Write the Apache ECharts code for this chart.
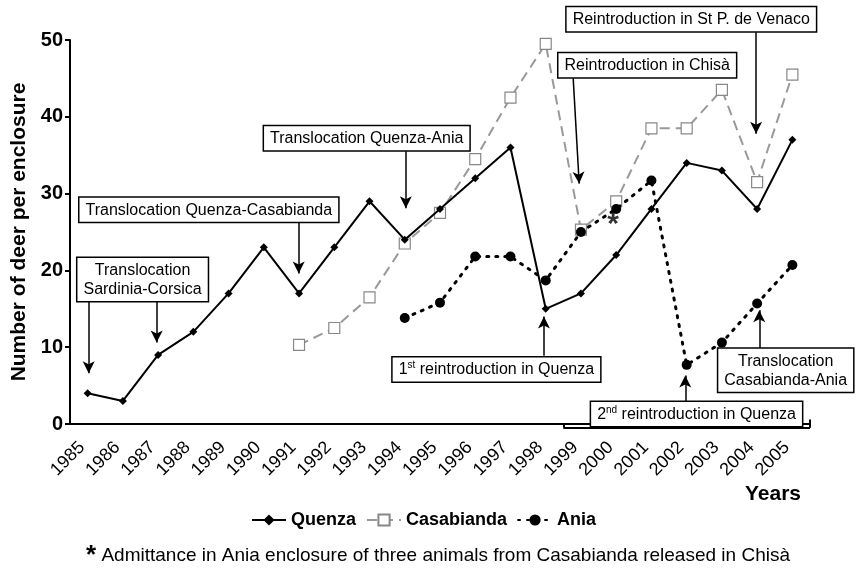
<!DOCTYPE html>
<html>
<head>
<meta charset="utf-8">
<script src="https://cdn.jsdelivr.net/npm/echarts@6/dist/echarts.min.js"></script>
<style>
  html, body { margin: 0; padding: 0; background: #fff; }
  #main { width: 858px; height: 569px; }
</style>
</head>
<body>
<div id="main"></div>
<script>
// values
const years = ['1985', '1986', '1987', '1988', '1989', '1990', '1991', '1992', '1993', '1994', '1995',
  '1996', '1997', '1998', '1999', '2000', '2001', '2002', '2003', '2004', '2005']
const quenza = [4, 3, 9, 12, 17, 23, 17, 23, 29, 24, 28, 32, 36, 15, 17, 22, 28, 34, 33, 28, 37]
const casabianda = [null, null, null, null, null, null, 10.3, 12.5, 16.5, 23.5, 27.5, 34.5, 42.5, 49.5,
  25.3, 29, 38.5, 38.5, 43.5, 31.5, 45.5]
const ania = [null, null, null, null, null, null, null, null, null, 13.8, 15.8, 21.8, 21.8, 18.7,
  25, 28, 31.7, 7.7, 10.6, 15.7, 20.7]
const admittance = [['2000', 26.8]]

// annotation boxes: [text, year, value] (centre of box, in year units)
const boxes = [
  ['Translocation\nSardinia-Corsica', 1986.56, 18.8],
  ['Translocation Quenza-Casabianda', 1988.44, 27.9],
  ['Translocation Quenza-Ania', 1992.92, 37.2],
  ['Reintroduction in St P. de Venaco', 2002.13, 52.7],
  ['Reintroduction in Chisà', 2000.88, 46.7],
  ['{n|1}{s|st}{n| reintroduction in Quenza}', 1996.6, 7.1],
  ['{n|2}{s|nd}{n| reintroduction in Quenza}', 2002.28, 1.3],
  ['Translocation\nCasabianda-Ania', 2004.81, 7.0]
]
// arrows: [fromYear, fromValue, toYear, toValue]
const arrows = [
  [1985.03, 15.9, 1985.03, 6.6],
  [1986.96, 15.9, 1986.96, 10.6],
  [1990.99, 26.3, 1990.99, 19.6],
  [1994.03, 35.5, 1994.03, 28.1],
  [2003.97, 51.0, 2003.97, 37.8],
  [1998.78, 45.0, 1998.95, 31.3],
  [1997.95, 8.9, 1997.95, 14.0],
  [2001.96, 3.0, 2001.96, 6.3],
  [2004.06, 9.9, 2004.06, 14.8]
]
// bracket drawn under the axis from 1999 to the end: [fromYear, fromValue, toYear, toValue]
const bracket = [
  [1998.5, 0, 1998.5, -0.5],
  [1998.5, -0.5, 2005.5, -0.5],
  [2005.5, -0.5, 2005.5, 0.6]
]

const font = 'Liberation Sans, Arial, sans-serif'
const chart = echarts.init(document.getElementById('main'))

chart.setOption({
  animation: false,
  textStyle: { fontFamily: font },
  grid: [
    { left: 70, right: 48, top: 40, bottom: 145 },
    // same scale, 5 units more each way, so annotations outside 0..50 are kept
    { left: 70, right: 48, top: 1.6, bottom: 106.6 }
  ],
  legend: {
    bottom: 35,
    left: 246,
    itemWidth: 34,
    itemGap: 10,
    textStyle: { fontWeight: 'bold', fontSize: 18, color: '#000' },
    data: ['Quenza', 'Casabianda', 'Ania']
  },
  xAxis: [
    {
      type: 'category',
      data: years,
      boundaryGap: true,
      axisLine: { lineStyle: { color: '#000', width: 2 } },
      axisTick: { inside: true, length: 5, lineStyle: { color: '#000', width: 2 } },
      axisLabel: { rotate: 45, interval: 0, color: '#000', fontSize: 18, margin: 15, padding: [0, 8, 0, 0] }
    },
    { type: 'value', gridIndex: 1, min: 1984.5, max: 2005.5, show: false }
  ],
  yAxis: [
    {
      type: 'value',
      min: 0,
      max: 50,
      interval: 10,
      name: 'Number of deer per enclosure',
      nameLocation: 'middle',
      nameGap: 37,
      nameTextStyle: { fontWeight: 'bold', fontSize: 21, color: '#000' },
      splitLine: { show: false },
      axisLine: { show: true, lineStyle: { color: '#000', width: 2 } },
      axisTick: { show: true, length: 5, lineStyle: { color: '#000', width: 2 } },
      axisLabel: { color: '#000', fontSize: 20, fontWeight: 'bold', margin: 7 }
    },
    { type: 'value', gridIndex: 1, min: -5, max: 55, show: false }
  ],
  graphic: [
    {
      type: 'text', right: 57, top: 484,
      style: { text: 'Years', font: 'bold 21px ' + font, fill: '#000' }
    },
    {
      type: 'text', left: 86, top: 543,
      style: {
        text: '{a|*} Admittance in Ania enclosure of three animals from Casabianda released in Chisà',
        font: '19px ' + font, fill: '#000',
        rich: { a: { font: 'bold 26px ' + font, fill: '#000', verticalAlign: 'bottom' } }
      }
    }
  ],
  series: [
    {
      name: 'Quenza',
      type: 'line',
      data: quenza,
      symbol: 'diamond',
      symbolSize: 8,
      itemStyle: { color: '#000' },
      lineStyle: { color: '#000', width: 2 },
      z: 4
    },
    {
      name: 'Casabianda',
      type: 'line',
      data: casabianda,
      symbol: 'rect',
      symbolSize: 11,
      itemStyle: { color: '#fff', borderColor: '#888', borderWidth: 1.2 },
      lineStyle: { color: '#999', width: 2, type: [10, 6] },
      z: 3
    },
    {
      name: 'Ania',
      type: 'line',
      data: ania,
      symbol: 'circle',
      symbolSize: 10,
      itemStyle: { color: '#000' },
      lineStyle: { color: '#000', width: 3, type: [2, 7], cap: 'round' },
      z: 5
    },
    {
      type: 'scatter',
      data: admittance,
      symbolSize: 1,
      itemStyle: { color: 'transparent' },
      label: {
        show: true, position: 'inside', formatter: '*', offset: [-3, 7],
        fontSize: 30, fontWeight: 'bold', color: '#000'
      },
      z: 6
    },
    {
      type: 'scatter',
      xAxisIndex: 1,
      yAxisIndex: 1,
      data: [],
      silent: true,
      markLine: {
        silent: true,
        symbol: 'none',
        label: { show: false },
        lineStyle: { color: '#000', width: 2, type: 'solid' },
        data: bracket.map(a => [{ coord: [a[0], a[1]] }, { coord: [a[2], a[3]] }])
      },
      z: 2
    },
    {
      type: 'scatter',
      xAxisIndex: 1,
      yAxisIndex: 1,
      data: [],
      silent: true,
      markLine: {
        silent: true,
        symbol: ['none', 'arrow'],
        symbolSize: [9, 12],
        label: { show: false },
        lineStyle: { color: '#000', width: 1.5, type: 'solid' },
        data: arrows.map(a => [{ coord: [a[0], a[1]] }, { coord: [a[2], a[3]] }])
      },
      markPoint: {
        silent: true,
        symbol: 'rect',
        symbolSize: 1,
        itemStyle: { color: 'transparent' },
        label: {
          show: true,
          position: 'inside',
          formatter: p => p.name,
          color: '#000',
          fontSize: 16,
          lineHeight: 19,
          align: 'center',
          backgroundColor: '#fff',
          borderColor: '#000',
          borderWidth: 1.5,
          padding: [3, 6, 2, 6],
          rich: {
            n: { fontSize: 16, color: '#000', lineHeight: 19 },
            s: { fontSize: 10, color: '#000', lineHeight: 19, verticalAlign: 'top' }
          }
        },
        data: boxes.map(b => ({ name: b[0], coord: [b[1], b[2]] }))
      },
      z: 7
    }
  ]
})
</script>
</body>
</html>
